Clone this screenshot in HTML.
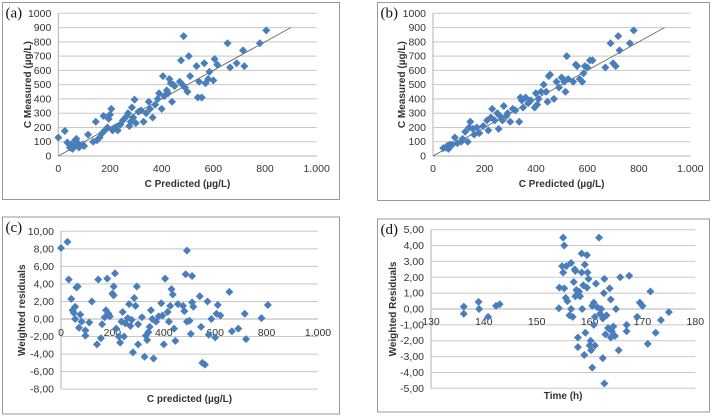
<!DOCTYPE html>
<html><head><meta charset="utf-8">
<style>
body{margin:0;background:#fff;width:714px;height:418px;overflow:hidden}
svg{display:block;font-family:"Liberation Sans",sans-serif}
</style></head>
<body>
<svg id="chart" width="714" height="418" viewBox="0 0 714 418" xmlns="http://www.w3.org/2000/svg"></svg>
<script>
const aX=[0,25,35,45,50,55,60,65,70,75,80,95,100,115,135,145,150,160,170,175,180,190,195,200,205,210,220,230,240,250,260,270,275,280,285,290,295,300,310,320,330,340,350,355,365,375,385,390,400,405,410,420,425,430,435,440,445,450,470,475,480,485,490,500,505,510,535,540,545,555,565,570,580,585,600,605,615,655,665,690,715,720,780,805];
const aY=[130,175,95,60,80,50,70,110,120,90,60,80,70,150,100,240,110,130,160,280,180,200,260,290,330,180,200,180,220,250,270,300,210,240,340,270,395,230,310,320,240,300,380,330,270,360,400,440,330,560,420,460,440,540,510,380,500,490,520,670,500,840,480,450,700,560,630,410,520,410,650,510,540,590,530,680,640,790,620,650,740,630,790,880];
const bX=[40,50,55,60,65,75,85,95,110,115,125,135,140,145,155,160,170,180,195,210,215,225,230,240,250,255,260,270,275,285,290,300,310,320,335,340,345,350,360,370,380,395,400,405,410,420,430,440,445,450,455,470,480,490,500,510,515,520,525,545,555,560,570,580,585,590,600,610,620,670,690,700,710,720,725,765,780];
const bY=[55,60,70,50,80,80,130,90,100,120,170,100,200,240,190,150,200,160,210,250,180,270,330,250,300,190,280,250,350,280,300,240,330,320,240,410,390,340,410,370,390,340,440,360,400,450,500,450,380,560,570,400,520,480,550,520,450,700,540,520,640,630,540,520,580,630,620,670,670,620,790,650,630,840,740,790,880];
const cX=[0,25,30,40,45,50,55,55,60,65,70,75,80,95,95,110,120,140,145,155,160,170,175,180,185,190,200,205,210,205,215,225,230,235,240,245,250,260,265,270,275,280,285,290,295,300,300,315,325,330,335,340,345,350,355,360,370,380,390,395,400,405,415,420,425,430,435,440,445,455,475,480,485,490,490,500,505,510,510,515,540,545,550,560,570,575,585,600,605,610,620,655,665,690,715,720,780,805];
const cY=[8.1,8.8,4.5,2.3,1.0,0.7,1.4,0,3.6,3.7,-1.0,0.5,-0.3,-1.3,-1.9,-0.4,2.0,-2.9,4.5,-2.2,-0.6,0.2,1.0,4.6,0.6,0.3,2.9,3.7,5.2,2.7,-1.1,-2.0,-2.7,-0.3,0.8,-2.0,-0.5,0.1,1.7,-0.8,-0.1,-3.8,2.4,1.5,3.7,-2.9,-0.6,0.2,-4.3,-1.9,-2.4,-1.5,-0.9,1.0,0,-4.5,-0.3,0.3,1.8,0.4,-2.9,4.6,0.8,-0.3,1.5,3.4,2.8,-1.1,-2.5,1.7,1.5,0.9,5.1,-0.3,7.8,-0.2,-1.7,1.9,4.9,1.4,2.6,-0.9,-5.0,-5.2,2.0,-1.8,0,-2.1,0.6,1.6,0.4,3.1,-1.4,-1.1,0.6,-2.3,0.1,1.6];
const dX=[136.2,136.2,139,139.1,140.8,142.3,143,154.2,154.3,154.8,155,155.2,155,155.2,155.5,155.6,155.8,156.2,156.5,156.5,156.8,157,157.2,157.3,157.3,157.5,157.7,157.8,157.8,158,158.2,158.5,158.5,158.6,158.8,159,159.1,159.2,159.5,159.6,159.8,159.5,160,160.2,160.3,160.5,160.5,160.8,160.8,161,161,161.2,161.5,161.8,162,162.2,162.5,162.5,162.7,162.8,162.8,163,163.2,163.5,163.8,164,164,164.2,164.5,164.8,165,165.5,165.8,167,167,167.5,169,169.5,170,171,171.5,172.5,173.5,175];
const dY=[0.15,-0.3,0.45,0,-0.5,0.2,0.3,0.05,1.35,2.7,4.5,4.0,2.3,1.3,0.7,2.7,0.5,-0.4,0,2.9,-0.5,1.7,2.5,2.4,0.8,1.2,0.9,-1.8,-2.4,1.1,0.8,3.5,2.3,0,1.5,-2.9,2.8,-1.5,3.4,2.3,1.9,1.35,-2.3,-2.0,-2.6,-3.7,0.2,-1.0,0.4,-0.5,-2.3,1.6,0.1,4.5,-0.3,0,-3.1,-0.6,1.0,1.9,-4.7,-1.6,-0.4,-1.2,1.3,0.6,-1.8,-1.4,-1.1,-1.7,0,-2.6,2.0,-1.0,-1.4,2.1,-0.5,0.4,0.2,-2.2,1.1,-1.5,-0.7,-0.2];
const abTicksY=[0,100,200,300,400,500,600,700,800,900,1000];
const abTicksX=["0","200","400","600","800","1.000"];
const cTicksY=["10,00","8,00","6,00","4,00","2,00","0,00","-2,00","-4,00","-6,00","-8,00"];
const dTicksY=["5,00","4,00","3,00","2,00","1,00","0,00","-1,00","-2,00","-3,00","-4,00","-5,00"];
const dTicksX=["130","140","150","160","170","180"];

const NS="http://www.w3.org/2000/svg";
const svg=document.getElementById("chart");
function mk(tag,attrs,parent,text){const e=document.createElementNS(NS,tag);for(const k in attrs)e.setAttribute(k,attrs[k]);if(text!==undefined)e.textContent=text;(parent||svg).appendChild(e);return e;}

function panel(cfg){
  const g=mk("g",{});
  
  
  const fr=mk("rect",{x:cfg.fx,y:cfg.fy,width:cfg.fw,height:cfg.fh,fill:"#fff",stroke:"#9a9a9a","stroke-width":1},g);
  
  
  const sx=v=>cfg.x0+(v-cfg.xmin)/(cfg.xmax-cfg.xmin)*(cfg.x1-cfg.x0);
  const sy=v=>cfg.y0+(v-cfg.ymin)/(cfg.ymax-cfg.ymin)*(cfg.y1-cfg.y0);
  cfg.yticks.forEach((t,i)=>{
    const v=cfg.yvals[i];const y=sy(v);
    const l=mk("line",{x1:cfg.x0,x2:cfg.x1,y1:y,y2:y,stroke:"#c8c8c8","stroke-width":1},g);
    
    
    const tx=mk("text",{x:cfg.x0-7,y:y+3.5,"text-anchor":"end","font-size":"10.5",fill:"#333"},g,t);
    
    
  });
  const ylo=Math.min(...cfg.yvals),yhi=Math.max(...cfg.yvals);
  const ya=mk("line",{x1:cfg.x0,x2:cfg.x0,y1:sy(ylo),y2:sy(yhi),stroke:"#b0b0b0"},g);
  
  
  const xa=mk("line",{x1:cfg.x0,x2:cfg.x1,y1:sy(cfg.xaxisAt),y2:sy(cfg.xaxisAt),stroke:"#b0b0b0"},g);
  
  
  cfg.xticks.forEach((t,i)=>{
    const x=sx(cfg.xvals[i]);
    const tx=mk("text",{x:x,y:cfg.xlabY,"text-anchor":"middle","font-size":"10.5",fill:"#333"},g,t);
    
    
  });
  if(cfg.diag){
    const dl=mk("line",{x1:sx(0),y1:sy(0),x2:sx(900),y2:sy(900),stroke:"#555","stroke-width":0.8},g);
    
    
  }
  const r=4;
  cfg.xs.forEach((xv,i)=>{
    const x=sx(xv),y=sy(cfg.ys[i]);
    const p=mk("path",{d:`M${x} ${y-r}L${x+r} ${y}L${x} ${y+r}L${x-r} ${y}Z`,fill:"#4a7ebb"},g);
    
    
  });
  const xt=mk("text",{x:(cfg.x0+cfg.x1)/2,y:cfg.xtitleY,"text-anchor":"middle","font-size":"10","font-weight":"bold",fill:"#333"},g,cfg.xtitle);
  
  
  const yc=(sy(ylo)+sy(yhi))/2;
  const yt=mk("text",{x:cfg.ytitleX,y:yc,"text-anchor":"middle","font-size":"10","font-weight":"bold",fill:"#333",transform:`rotate(-90 ${cfg.ytitleX} ${yc})`},g,cfg.ytitle);
  
  
  const pl=mk("text",{x:cfg.fx+3,y:cfg.fy+15,"font-size":"15","font-family":"Liberation Serif,serif",fill:"#111"},g,cfg.label);
  
  
}
const abY=abTicksY.map(String);
panel({id:"a",label:"(a)",fx:2.5,fy:2.5,fw:337,fh:197,x0:58.3,x1:316.7,xmin:0,xmax:1000,y0:156,y1:13.3,ymin:0,ymax:1000,
  yticks:abY,yvals:abTicksY,xticks:abTicksX,xvals:[0,200,400,600,800,1000],xaxisAt:0,xlabY:172,xtitle:"C Predicted (µg/L)",xtitleY:187,ytitle:"C Measured (µg/L)",ytitleX:31,xs:aX,ys:aY,diag:true});
panel({id:"b",label:"(b)",fx:377.5,fy:2.5,fw:332,fh:198,x0:433,x1:690.3,xmin:0,xmax:1000,y0:156,y1:13.3,ymin:0,ymax:1000,
  yticks:abY,yvals:abTicksY,xticks:abTicksX,xvals:[0,200,400,600,800,1000],xaxisAt:0,xlabY:172,xtitle:"C Predicted (µg/L)",xtitleY:187,ytitle:"C Measured (µg/L)",ytitleX:405,xs:bX,ys:bY,diag:true});
panel({id:"c",label:"(c)",fx:2.5,fy:217,fw:337,fh:197,x0:61,x1:318,xmin:0,xmax:1000,y0:319,y1:231.3,ymin:0,ymax:10,
  yticks:cTicksY,yvals:[10,8,6,4,2,0,-2,-4,-6,-8],xticks:abTicksX,xvals:[0,200,400,600,800,1000],xaxisAt:0,xlabY:336,xtitle:"C predicted (µg/L)",xtitleY:402,ytitle:"Weighted residuals",ytitleX:25,xs:cX,ys:cY,diag:false});
panel({id:"d",label:"(d)",fx:377.5,fy:219,fw:332,fh:193,x0:431,x1:695.3,xmin:130,xmax:180,y0:309,y1:229.7,ymin:0,ymax:5,
  yticks:dTicksY,yvals:[5,4,3,2,1,0,-1,-2,-3,-4,-5],xticks:dTicksX,xvals:[130,140,150,160,170,180],xaxisAt:0,xlabY:325,xtitle:"Time (h)",xtitleY:399,ytitle:"Weighted Residuals",ytitleX:396,xs:dX,ys:dY,diag:false});
</script>
</body></html>
